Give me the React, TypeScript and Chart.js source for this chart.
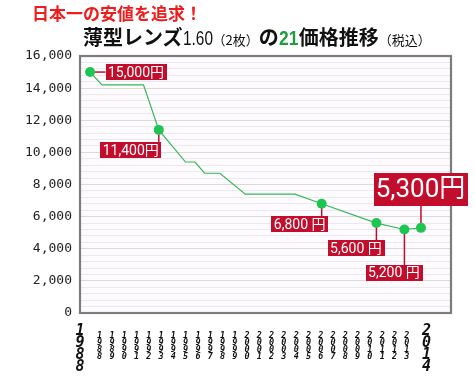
import React, { useEffect, useRef } from 'react';
import { Chart, registerables } from 'chart.js';

Chart.register(...registerables);

// ---- data ----
const years = [1988, 1988.94, 1992.2, 1993.4, 1995.5, 1996.25, 1997.0, 1998.2, 2000.2, 2004.1, 2006.2, 2010.5, 2012.7, 2014];
const prices = [15000, 14200, 14200, 11400, 9400, 9400, 8700, 8700, 7400, 7400, 6800, 5600, 5200, 5300];
const markedPoints = [0, 3, 10, 11, 12, 13];
const priceTexts = ['15,000円', '11,400円', '6,800 円', '5,600 円', '5,200 円', '5,300円'];
const axisYears = [1988, 1989, 1990, 1991, 1992, 1993, 1994, 1995, 1996, 1997, 1998, 1999, 2000, 2001, 2002, 2003, 2004, 2005, 2006, 2007, 2008, 2009, 2010, 2011, 2012, 2013];
const endYears = ['1988', '2014'];
const yMin = 0;
const yMax = 16000;
const yMinorStep = 400;
const yMajorStep = 2000;

// ---- styles / placement ----
const RED = '#c20e2c';
const callouts = [
  { dx: 46, dy: 0, leader: 'h', size: 14 },
  { dx: -28, dy: 20.5, leader: 'v', size: 14 },
  { dx: -22, dy: 20.5, leader: 'v', size: 14 },
  { dx: -20.5, dy: 25, leader: 'v', size: 14 },
  { dx: -10.5, dy: 43.5, leader: 'v', size: 14 },
  { dx: -0.5, dy: -38.5, leader: 'v', size: 26 },
];

function boxFor(ctx: CanvasRenderingContext2D, k: number, px: number, py: number) {
  const c = callouts[k];
  ctx.font = `${c.size}px Roboto, "Noto Sans CJK JP", sans-serif`;
  const big = c.size > 20;
  const w = ctx.measureText(priceTexts[k]).width + (big ? 4 : 5);
  const h = big ? 33 : 16;
  const cx = px + c.dx;
  const cy = py + c.dy;
  return { c, w, h, cx, cy };
}

const framePlugin = {
  id: 'frame',
  beforeDraw(chart: any) {
    const { ctx, chartArea: a } = chart;
    ctx.save();
    ctx.fillStyle = '#fdfbfd';
    ctx.fillRect(a.left, a.top, a.right - a.left, a.bottom - a.top);
    ctx.restore();
  },
  beforeDatasetsDraw(chart: any) {
    const { ctx, chartArea: a } = chart;
    ctx.save();
    ctx.strokeStyle = '#7c7c7c';
    ctx.lineWidth = 2.2;
    ctx.strokeRect(a.left, a.top, a.right - a.left, a.bottom - a.top);
    // leaders (under the points)
    const meta = chart.getDatasetMeta(0);
    markedPoints.forEach((idx, k) => {
      const el = meta.data[idx];
      const { c, w, h, cx, cy } = boxFor(ctx, k, el.x, el.y);
      ctx.strokeStyle = RED;
      ctx.lineWidth = 1.5;
      ctx.beginPath();
      if (c.leader === 'h') {
        ctx.moveTo(el.x, el.y);
        ctx.lineTo(cx - w / 2, el.y);
      } else {
        ctx.moveTo(el.x, el.y);
        ctx.lineTo(el.x, c.dy > 0 ? cy - h / 2 : cy + h / 2);
      }
      ctx.stroke();
    });
    ctx.restore();
  },
  afterDatasetsDraw(chart: any) {
    const { ctx } = chart;
    const meta = chart.getDatasetMeta(0);
    ctx.save();
    markedPoints.forEach((idx, k) => {
      const el = meta.data[idx];
      const { w, h, cx, cy } = boxFor(ctx, k, el.x, el.y);
      ctx.fillStyle = RED;
      ctx.fillRect(Math.round(cx - w / 2), Math.round(cy - h / 2), Math.round(w), h);
      ctx.fillStyle = '#ffffff';
      ctx.textAlign = 'center';
      ctx.textBaseline = 'middle';
      ctx.fillText(priceTexts[k], cx, cy + 1);
    });
    ctx.restore();
  },
};

export default function App() {
  const ref = useRef<HTMLCanvasElement | null>(null);

  useEffect(() => {
    if (!ref.current) return;
    const lastIdx = axisYears.length + 1;
    const chart = new Chart(ref.current, {
      type: 'line',
      data: {
        datasets: [
          {
            data: years.map((x, i) => ({ x, y: prices[i] })),
            borderColor: '#36b658',
            borderWidth: 1.2,
            tension: 0,
            pointRadius: (c: any) => (markedPoints.includes(c.dataIndex) ? 5 : 0),
            pointHoverRadius: 0,
            pointBackgroundColor: '#1fc552',
            pointBorderWidth: 0,
            clip: false as any,
          },
        ],
      },
      options: {
        responsive: false,
        animation: false,
        events: [],
        layout: { padding: { top: 56, right: 24, left: 0, bottom: 0 } },
        plugins: { legend: { display: false }, tooltip: { enabled: false }, title: { display: false } },
        scales: {
          x: {
            type: 'linear',
            display: false,
            min: 1987.21,
            max: 2016.36,
          },
          xl: {
            type: 'linear',
            position: 'bottom',
            min: 1986.4,
            max: 2016.6,
            grid: { display: false, drawTicks: false, tickLength: 0 },
            border: { display: false },
            afterBuildTicks: (scale: any) => {
              const vals = [scale.min, ...axisYears, 2014.6];
              scale.ticks = vals.map((v) => ({ value: v }));
            },
            afterFit: (scale: any) => {
              scale.height = 63;
            },
            ticks: {
              autoSkip: false,
              maxRotation: 0,
              minRotation: 0,
              padding: 12,
              color: '#111',
              callback: (_v: any, i: number) => {
                if (i === 0) return endYears[0].split('');
                if (i === lastIdx) return endYears[1].split('');
                return ['', ...String(axisYears[i - 1]).split('')];
              },
              font: (c: any) =>
                c.index === 0 || c.index === lastIdx
                  ? { family: '"DejaVu Sans Mono", monospace', size: 15, weight: 'bold', style: 'italic', lineHeight: '12px' }
                  : { family: '"DejaVu Sans Mono", monospace', size: 8.5, weight: 'bold', style: 'italic', lineHeight: '7px' },
            } as any,
          },
          y: {
            type: 'linear',
            min: yMin,
            max: yMax,
            border: { display: false },
            afterFit: (scale: any) => {
              scale.width = 80;
            },
            grid: {
              drawTicks: false,
              tickLength: 0,
              lineWidth: 1,
              color: (c: any) => (c.tick && c.tick.value % yMajorStep === 0 ? '#dcdbd5' : '#ebe9ee'),
            },
            ticks: {
              stepSize: yMinorStep,
              autoSkip: false,
              padding: 8,
              color: '#222',
              font: { family: '"DejaVu Sans Mono", monospace', size: 13 },
              callback: (v: any) => (Number(v) % yMajorStep === 0 ? Number(v).toLocaleString('en-US') : ''),
            },
          },
        },
      } as any,
      plugins: [framePlugin],
    });
    return () => chart.destroy();
  }, []);

  const narrow = (w: number, s: number): React.CSSProperties => ({
    display: 'inline-block',
    width: w,
    transform: `scaleX(${s})`,
    transformOrigin: 'left center',
    fontFamily: '"Liberation Sans", Arial, sans-serif',
  });

  return (
    <div style={{ position: 'absolute', left: 0, top: 0, width: 475, height: 376, background: '#fff' }}>
      <canvas ref={ref} width={475} height={376} style={{ display: 'block', width: 475, height: 376 }} />
      <div
        style={{
          position: 'absolute',
          left: 32,
          top: 3,
          fontFamily: '"Noto Sans CJK JP", sans-serif',
          fontWeight: 700,
          fontSize: 17,
          lineHeight: '19px',
          color: '#ee1c1c',
          whiteSpace: 'nowrap',
        }}
      >
        日本一の安値を追求！
      </div>
      <div
        style={{
          position: 'absolute',
          left: 83,
          top: 26,
          fontFamily: '"Noto Sans CJK JP", sans-serif',
          fontSize: 20,
          lineHeight: '22px',
          color: '#111',
          whiteSpace: 'nowrap',
        }}
      >
        <span style={{ fontWeight: 700 }}>薄型レンズ</span>
        <span style={narrow(30, 0.77)}>1.60</span>
        <span style={{ fontSize: 13 }}>（2枚）</span>
        <span style={{ fontWeight: 700 }}>の</span>
        <span style={{ ...narrow(20, 0.87), fontWeight: 700, color: '#1f9e3c' }}>21</span>
        <span style={{ fontWeight: 700 }}>価格推移</span>
        <span style={{ fontSize: 13 }}>（税込）</span>
      </div>
    </div>
  );
}
